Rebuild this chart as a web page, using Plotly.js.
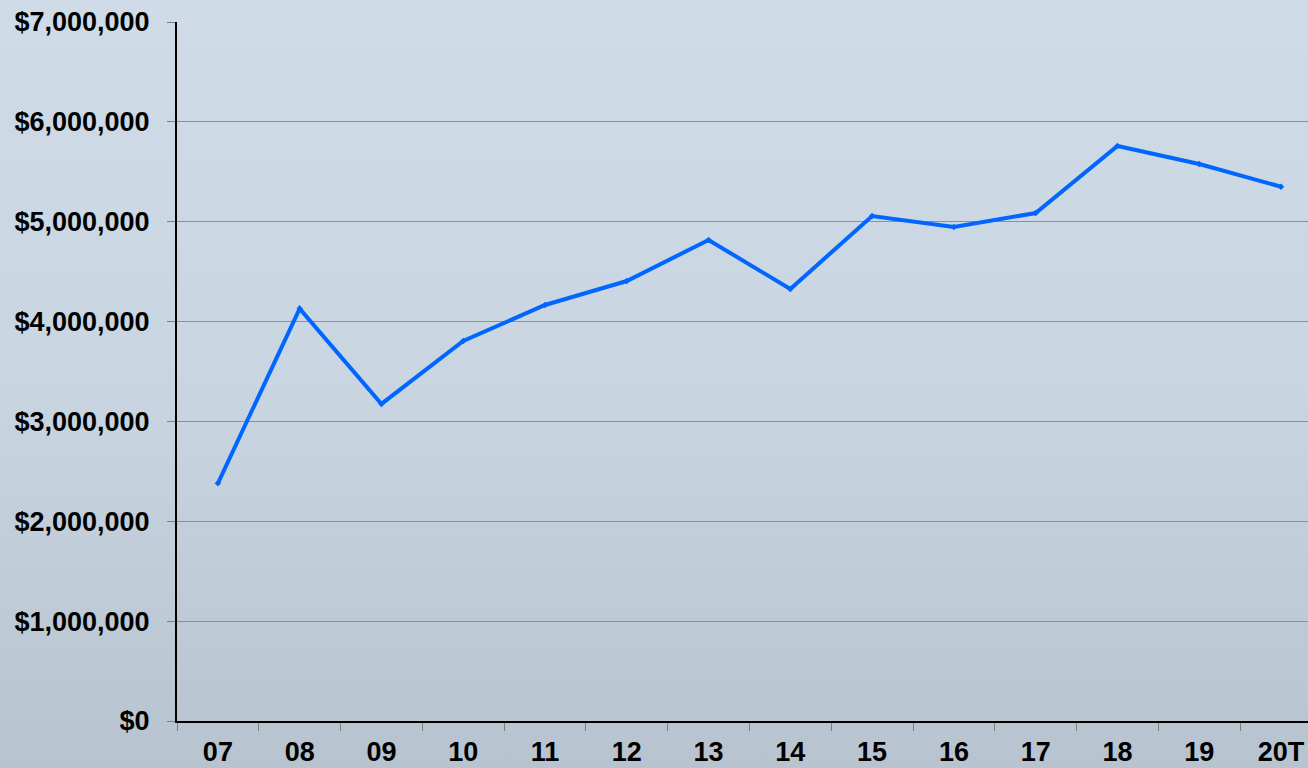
<!DOCTYPE html>
<html>
<head>
<meta charset="utf-8">
<script src="https://cdn.plot.ly/plotly-3.0.1.min.js"></script>
<style>
html,body{margin:0;padding:0;width:1308px;height:768px;overflow:hidden;}
body{background:linear-gradient(to bottom,#cfdce8 0%,#c9d5e1 50%,#b7c3cf 100%);}
#chart{width:1308px;height:768px;}
</style>
</head>
<body>
<div id="chart"></div>
<script>
const years = ["07","08","09","10","11","12","13","14","15","16","17","18","19","20T"];
const values = [2380000,4130000,3175000,3806000,4166000,4406000,4817000,4326000,5057000,4947000,5087000,5758000,5578000,5350000];
const yTickVals = [0,1000000,2000000,3000000,4000000,5000000,6000000,7000000];

const trace = {
  x: years,
  y: values,
  type: "scatter",
  mode: "lines+markers",
  line: {color: "#0066ff", width: 4},
  marker: {symbol: "diamond", size: 5, color: "#0066ff"},
  hoverinfo: "skip"
};

const layout = {
  width: 1308,
  height: 768,
  margin: {l: 177, r: 0, t: 22, b: 47},
  paper_bgcolor: "rgba(0,0,0,0)",
  plot_bgcolor: "rgba(0,0,0,0)",
  showlegend: false,
  font: {family: "Liberation Sans, Arial, sans-serif", color: "#000"},
  xaxis: {
    type: "category",
    tickson: "boundaries",
    ticks: "outside",
    ticklen: 8,
    tickcolor: "#7f7f7f",
    tickwidth: 1,
    showgrid: false,
    showline: true,
    linecolor: "#000",
    linewidth: 2,
    tickfont: {size: 27, family: "Liberation Sans, Arial, sans-serif", weight: "bold"},
    range: [-0.5, 13.33],
    zeroline: false,
    ticklabelstandoff: 6
  },
  yaxis: {
    range: [0, 7000000],
    tickvals: yTickVals,
    tickformat: "$,.0f",
    ticks: "outside",
    ticklen: 8,
    tickcolor: "#7f7f7f",
    showgrid: true,
    gridcolor: "#8a9299",
    gridwidth: 1,
    showline: true,
    linecolor: "#000",
    linewidth: 2,
    zeroline: false,
    tickfont: {size: 27, family: "Liberation Sans, Arial, sans-serif", weight: "bold"},
    ticklabelstandoff: 12
  }
};

Plotly.newPlot("chart", [trace], layout, {staticPlot: true, displayModeBar: false});
</script>
</body>
</html>
